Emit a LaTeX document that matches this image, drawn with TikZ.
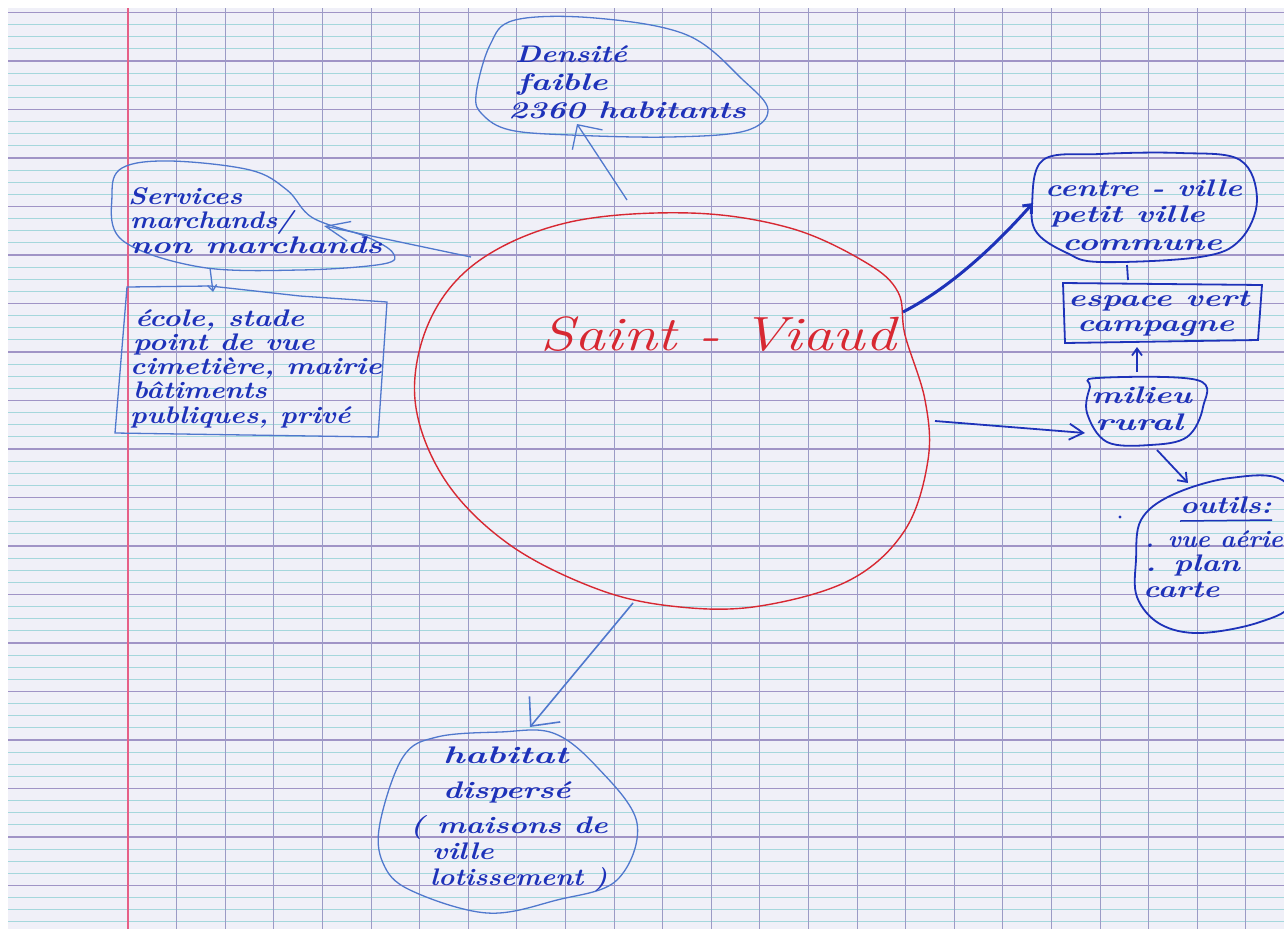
\documentclass[tikz,border=0pt]{standalone}
\usepackage{graphicx}
\usetikzlibrary{arrows.meta}
\definecolor{paper}{RGB}{240,240,248}
\definecolor{rulethin}{RGB}{165,215,220}
\definecolor{rulethick}{RGB}{160,148,198}
\definecolor{rulevert}{RGB}{155,155,198}
\definecolor{marginred}{RGB}{230,95,135}
\definecolor{ink}{RGB}{30,50,185}
\definecolor{inklight}{RGB}{80,120,205}
\definecolor{redink}{RGB}{215,40,50}
\newcommand\hw[2]{\scalebox{#1}[1]{#2}}
\tikzset{
  hand/.style={font=\fontsize{24}{26}\selectfont\bfseries\itshape, text=ink, inner sep=0pt, anchor=base west},
  bigred/.style={font=\fontsize{48}{50}\selectfont\itshape, text=redink, inner sep=0pt, anchor=base west},
  bubble/.style={draw=inklight, line width=1.3pt},
  bubbledark/.style={draw=ink, line width=1.8pt},
  link/.style={draw=inklight, line width=1.3pt},
  linkdark/.style={draw=ink, line width=1.8pt},
}
\begin{document}
\begin{tikzpicture}[x=1pt,y=-1pt]
\clip (0,0) rectangle (1284,929);
\fill[white] (0,0) rectangle (1284,929);
\fill[paper] (8,8) rectangle (1284,929);
% ruled paper
\foreach \i in {0,...,75} {
  \pgfmathsetmacro\yy{12.5+12.125*\i}
  \pgfmathtruncatemacro\mm{mod(\i,4)}
  \ifnum\mm=0
    \draw[rulethick, line width=1.1pt] (8,\yy) -- (1284,\yy);
  \else
    \draw[rulethin, line width=0.8pt] (8,\yy) -- (1284,\yy);
  \fi
}
\foreach \k in {1,...,24} {
  \pgfmathsetmacro\xx{128+48.6*\k}
  \draw[rulevert, line width=0.9pt] (\xx,8) -- (\xx,929);
}
\draw[marginred, line width=1.6pt] (128,8) -- (128,929);

% central red blob
\draw[redink, line width=1.4pt] plot[smooth cycle, tension=0.6] coordinates {
  (690,213) (790,228) (865,262) (898,292) (905,335) (925,400) (928,460)
  (905,530) (850,580) (760,606) (680,607) (600,590) (510,545) (445,480)
  (415,400) (430,320) (480,260) (570,222)};
\node[bigred] (sv) at (540,350) {\hw{1.28}{Saint - Viaud}};

% Densite bubble
\draw[bubble] plot[smooth cycle, tension=0.6] coordinates {
  (476,95) (490,45) (515,20) (595,18) (687,35) (743,80) (768,110)
  (745,131) (670,137) (570,135) (510,130) (483,115)};
\node[hand] (dens1) at (515,62) {\hw{1.22}{Densité}};
\node[hand] (dens2) at (517,90) {\hw{1.39}{faible}};
\node[hand] (dens3) at (508,118) {\hw{1.35}{2360 habitants}};

% Services bubble
\draw[bubble] plot[smooth cycle, tension=0.6] coordinates {
  (112,195) (122,168) (170,161) (250,170) (287,190) (313,218)
  (367,237) (393,253) (383,264) (300,270) (200,267) (122,240)};
\node[hand] (serv1) at (128,204) {\hw{1.17}{Services}};
\node[hand] (serv2) at (130,228) {\hw{1.13}{marchands/}};
\node[hand] (serv3) at (130,253) {\hw{1.36}{non marchands}};

% equipments box
\draw[bubble] (127,287) -- (210,286) -- (300,296) -- (387,302) -- (378,437) -- (115,433) -- cycle;
\node[hand] (eq1) at (135,326) {\hw{1.23}{école, stade}};
\node[hand] (eq2) at (133,350) {\hw{1.23}{point de vue}};
\node[hand] (eq3) at (130,374) {\hw{1.21}{cimetière, mairie}};
\node[hand] (eq4) at (133,398) {\hw{1.16}{bâtiments}};
\node[hand] (eq5) at (130,423) {\hw{1.17}{publiques, privé}};

% centre-ville bubble
\draw[bubbledark] plot[smooth cycle, tension=0.6] coordinates {
  (1032,205) (1043,160) (1100,154) (1180,153) (1240,160) (1257,200)
  (1240,240) (1200,257) (1100,262) (1067,253) (1037,233)};
\node[hand] (cv1) at (1045,196) {\hw{1.29}{centre - ville}};
\node[hand] (cv2) at (1050,222) {\hw{1.37}{petit ville}};
\node[hand] (cv3) at (1062,250) {\hw{1.4}{commune}};

% espace vert box
\draw[bubbledark] (1063,283) -- (1262,285) -- (1258,340) -- (1065,343) -- cycle;
\node[hand] (ev1) at (1068,306) {\hw{1.37}{espace vert}};
\node[hand] (ev2) at (1077,331) {\hw{1.35}{campagne}};

% milieu rural bubble
\draw[bubbledark] plot[smooth cycle, tension=0.6] coordinates {
  (1097,378) (1197,380) (1203,407) (1187,437) (1150,445) (1107,442)
  (1087,413) (1090,387)};
\node[hand] (mr1) at (1091,403) {\hw{1.35}{milieu}};
\node[hand] (mr2) at (1095,430) {\hw{1.49}{rural}};

% outils bubble
\draw[bubbledark] plot[smooth cycle, tension=0.6] coordinates {
  (1136,560) (1141,520) (1172,495) (1230,478) (1285,482) (1305,540)
  (1295,600) (1260,622) (1200,633) (1160,624) (1137,597)};
\node[hand] (ou1) at (1180,513) {\hw{1.23}{outils:}};
\draw[ink, line width=1.5pt] (1180,521) -- (1272,520);
\node[hand] (ou2) at (1145,547) {\hw{1.04}{. vue aérie}};
\node[hand] (ou3) at (1145,571) {\hw{1.3}{. plan}};
\node[hand] (ou4) at (1143,597) {\hw{1.28}{carte}};
\fill[ink] (1120,517) circle (1.6);

% habitat bubble
\draw[bubble] plot[smooth cycle, tension=0.6] coordinates {
  (437,737) (500,732) (553,733) (597,767) (637,823) (617,880)
  (557,900) (487,913) (410,890) (383,863) (380,823) (403,757)};
\node[hand] (hab1) at (443,763) {\hw{1.52}{habitat}};
\node[hand] (hab2) at (443,798) {\hw{1.32}{dispersé}};
\node[hand] (hab3) at (410,833) {\hw{1.26}{( maisons de}};
\node[hand] (hab4) at (432,859) {\hw{1.22}{ville}};
\node[hand] (hab5) at (430,885) {\hw{1.13}{lotissement )}};

% connector end points
\coordinate (densFrom) at (627,200);
\coordinate (densTo) at (577,124);
\coordinate (servFrom) at (471,257);
\coordinate (servTo) at (324,226);
\coordinate (eqFrom) at (210,268);
\coordinate (eqTo) at (213,292);
\coordinate (habFrom) at (633,603);
\coordinate (habTo) at (530,727);
\coordinate (cvFrom) at (903,312);
\coordinate (cvTo) at (1033,203);
\coordinate (mrFrom) at (935,421);
\coordinate (mrTo) at (1085,433);
\coordinate (cvBottom) at (1127,265);
\coordinate (evTop) at (1128,280);
\coordinate (mrTop) at (1137,372);
\coordinate (evBottom) at (1137,347);
\coordinate (mrBottom) at (1157,450);
\coordinate (ouTop) at (1188,483);

% connectors
\draw[link, -{Straight Barb[length=18pt,width=36pt]}] (densFrom) -- (densTo);
\draw[link, -{Straight Barb[length=24pt,width=20pt]}] (servFrom) -- (servTo);
\draw[link, -{Straight Barb[length=6pt,width=9pt]}] (eqFrom) -- (eqTo);
\draw[link, line width=1.6pt, -{Straight Barb[length=22pt,width=40pt]}] (habFrom) -- (habTo);
\draw[ink, line width=3pt, -{Straight Barb[length=7pt,width=12pt]}] (cvFrom) .. controls (955,285) and (1000,240) .. (cvTo);
\draw[linkdark, -{Straight Barb[length=14pt,width=16pt]}] (mrFrom) -- (mrTo);
\draw[linkdark] (cvBottom) -- (evTop);
\draw[linkdark, -{Straight Barb[length=7pt,width=10pt]}] (mrTop) -- (evBottom);
\draw[linkdark, -{Straight Barb[length=8pt,width=12pt]}] (mrBottom) -- (ouTop);
\end{tikzpicture}
\end{document}
